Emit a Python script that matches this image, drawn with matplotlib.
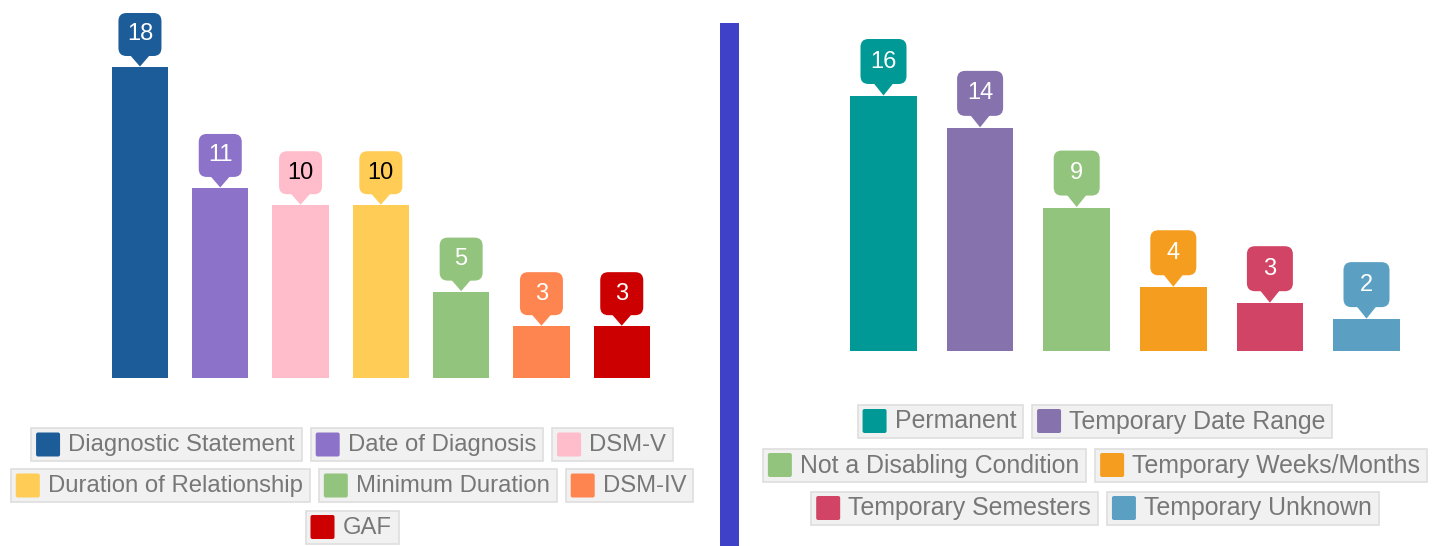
import matplotlib.pyplot as plt
import matplotlib.transforms as mtransforms
from matplotlib.patches import FancyBboxPatch, Polygon, Rectangle

plt.rcParams['font.family'] = ['Liberation Sans', 'DejaVu Sans']

# data
left_labels = ['Diagnostic Statement', 'Date of Diagnosis', 'DSM-V',
               'Duration of Relationship', 'Minimum Duration', 'DSM-IV', 'GAF']
left_values = [18, 11, 10, 10, 5, 3, 3]
left_colors = ['#1c5c99', '#8c72c9', '#ffbccb', '#ffcc55', '#93c47d', '#ff8550', '#cc0000']
left_text = ['white', 'white', 'black', 'black', 'white', 'white', 'white']
left_rows = [[0, 1, 2], [3, 4, 5], [6]]

right_labels = ['Permanent', 'Temporary Date Range', 'Not a Disabling Condition',
                'Temporary Weeks/Months', 'Temporary Semesters', 'Temporary Unknown']
right_values = [16, 14, 9, 4, 3, 2]
right_colors = ['#009995', '#8673ad', '#93c47d', '#f59d1e', '#d24465', '#5ba0c3']
right_text = ['white'] * 6
right_rows = [[0, 1], [2, 3], [4, 5]]

W, H = 1438, 546
fig = plt.figure(figsize=(W / 100, H / 100), dpi=100)


def px_axes(x0, y_top, w, h):
    # axes from pixel box (y measured from top)
    return fig.add_axes([x0 / W, (H - y_top - h) / H, w / W, h / H])


def callout(ax, x, v, color, tcolor, bw, bh, ph):
    trans = fig.dpi_scale_trans + mtransforms.ScaledTranslation(x, v, ax.transData)
    bw, bh, ph = bw / 100, bh / 100, ph / 100
    box = FancyBboxPatch((-bw / 2, ph), bw, bh, boxstyle='round,pad=0,rounding_size=0.08',
                         transform=trans, facecolor=color, edgecolor='none', clip_on=False)
    tri = Polygon([(-0.1, ph + 0.01), (0.1, ph + 0.01), (0, 0.005)], closed=True,
                  transform=trans, facecolor=color, edgecolor='none', clip_on=False)
    ax.add_patch(box)
    ax.add_patch(tri)
    ax.text(0, ph + bh / 2, str(v), transform=trans, ha='center', va='center',
            color=tcolor, fontsize=17)


def bars(ax, values, colors, tcolors, width, bw, bh, ph):
    xs = range(len(values))
    ax.bar(xs, values, width=width, color=colors)
    for x, v, c, t in zip(xs, values, colors, tcolors):
        callout(ax, x, v, c, t, bw, bh, ph)
    ax.set_xlim(-0.5, len(values) - 0.5)
    ax.axis('off')


def legend(labels, colors, rows, cx, row_y, fs):
    rend = fig.canvas.get_renderer()
    tr = fig.dpi_scale_trans
    for row, yc in zip(rows, row_y):
        items = []
        for i in row:
            t = fig.text(0, 0, labels[i], fontsize=fs, color='#777777', va='center',
                         ha='left', transform=tr)
            tw = t.get_window_extent(rend).width
            items.append((i, t, 5 + 25 + 7 + tw + 7))
        total = sum(w for _, _, w in items) + 9 * (len(items) - 1)
        x = cx - total / 2
        y = H - yc
        for i, t, w in items:
            fig.patches.append(Rectangle((x / 100, (y - 16.5) / 100), w / 100, 0.33,
                                         transform=tr, facecolor='#f1f1f1',
                                         edgecolor='#dedede', linewidth=1.2))
            fig.patches.append(FancyBboxPatch(((x + 5) / 100, (y - 12) / 100), 0.24, 0.24,
                                              boxstyle='round,pad=0,rounding_size=0.02',
                                              transform=tr, facecolor=colors[i],
                                              edgecolor='none'))
            t.set_position(((x + 37) / 100, (y - 0.5) / 100))
            t.set_zorder(3)
            x += w + 9


# left chart: baseline y=378px, 18 -> 67px
axl = px_axes(99.8, 378 - 311 * 20 / 18, 7 * 80.3, 311 * 20 / 18)
axl.set_ylim(0, 20)
bars(axl, left_values, left_colors, left_text, 0.70, 43, 43, 11)

# right chart: baseline y=351px, 16 -> 96px
axr = px_axes(835.2, 351 - 255, 6 * 96.6, 255)
axr.set_ylim(0, 16)
bars(axr, right_values, right_colors, right_text, 0.69, 46, 45, 12)

# divider
fig.patches.append(Rectangle((720 / W, 0), 19 / W, (H - 23) / H, transform=fig.transFigure,
                             facecolor='#3f42c9', edgecolor='none'))

legend(left_labels, left_colors, left_rows, 352, [444.5, 485.5, 527], 17.2)
legend(right_labels, right_colors, right_rows, 1095, [421, 465, 508], 17.9)

fig.savefig('out.png', dpi=100, facecolor='white')
